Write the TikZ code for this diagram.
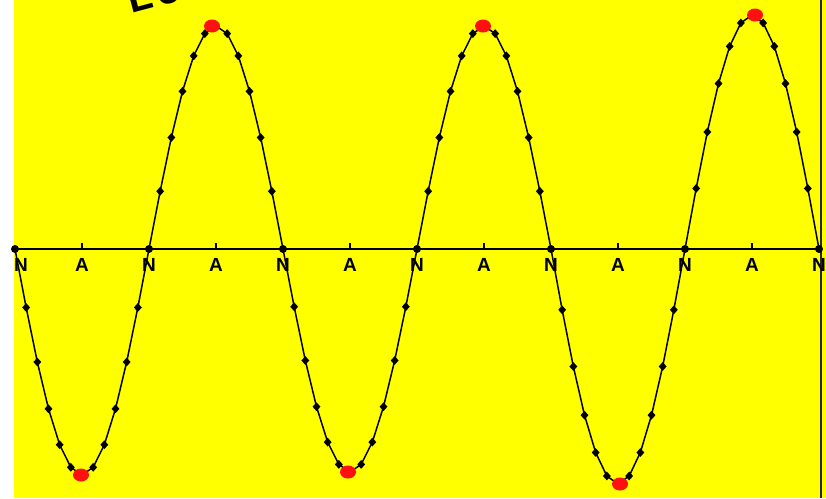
\documentclass[tikz,border=0pt]{standalone}
\usepackage{fontspec}
\setmainfont{Liberation Sans}
\usetikzlibrary{shapes.geometric}
\definecolor{bgyellow}{HTML}{FFFF00}
\definecolor{dotred}{HTML}{FF1010}
\tikzset{
  mk/.style={diamond, fill=black, inner sep=0pt, minimum width=8pt, minimum height=9pt},
  ndot/.style={circle, fill=black, inner sep=0pt, minimum size=8pt},
  reddot/.style={ellipse, fill=dotred, inner sep=0pt, minimum width=16pt, minimum height=13pt},
  lbl/.style={font=\fontsize{19}{19}\selectfont\bfseries, inner sep=0pt, anchor=center},
  wave/.style={line width=1.5pt, black, line join=round},
  axisline/.style={line width=1.6pt, black},
  tick/.style={line width=1.6pt, black}
}
\begin{document}
\begin{tikzpicture}[x=1pt,y=-1pt]
\useasboundingbox (0,0) rectangle (826,498);
\fill[white] (0,0) rectangle (826,498);
\fill[bgyellow] (14,0) rectangle (826,498);
% partial rotated title
\begin{scope}
\clip (14,0) rectangle (826,498);
\node[rotate=15, anchor=base west, inner sep=0pt, font=\fontsize{40}{40}\selectfont\bfseries] (title) at (131,14) {L\kern5pt o};
\end{scope}
% right border line
\coordinate (rb1) at (821,0);
\coordinate (rb2) at (821,498);
\draw[line width=2pt, black!85] (rb1) -- (rb2);
% axis
\coordinate (ax1) at (14,249);
\coordinate (ax2) at (819,249);
\draw[axisline] (ax1) -- (ax2);
% ticks at antinodes
\foreach \i in {0,...,5} {
  \coordinate (t\i) at ({82+134*\i},243);
  \coordinate (b\i) at ({82+134*\i},249);
  \draw[tick] (t\i) -- (b\i);
}
% wave
\foreach \i/\amp/\sg/\ro in {0/226/1/66, 1/223/-1/63, 2/223/1/65, 3/223/-1/66, 4/235/1/69, 5/234/-1/70} {
  \pgfmathsetmacro\xo{15+134*\i}
  \draw[wave] plot[domain=0:180, samples=13] ({\xo+\x/180*134},{249+\sg*\amp*sin(\x)});
  \foreach \k in {1,2,3,4,5,7,8,9,10,11} {
    \node[mk] (m\i-\k) at ({\xo+\k/12*134},{249+\sg*\amp*sin(15*\k)}) {};
  }
  \node[reddot] (r\i) at ({\xo+\ro},{249+\sg*\amp}) {};
}
% node dots
\foreach \i in {0,...,6} {
  \node[ndot] (n\i) at ({15+134*\i},249) {};
}
% labels
\node[lbl] (ln0) at (21,265) {N};
\foreach \i in {1,...,6} {
  \node[lbl] (ln\i) at ({15+134*\i},265) {N};
}
\foreach \i in {0,...,5} {
  \node[lbl] (la\i) at ({82+134*\i},265) {A};
}
\end{tikzpicture}
\end{document}
